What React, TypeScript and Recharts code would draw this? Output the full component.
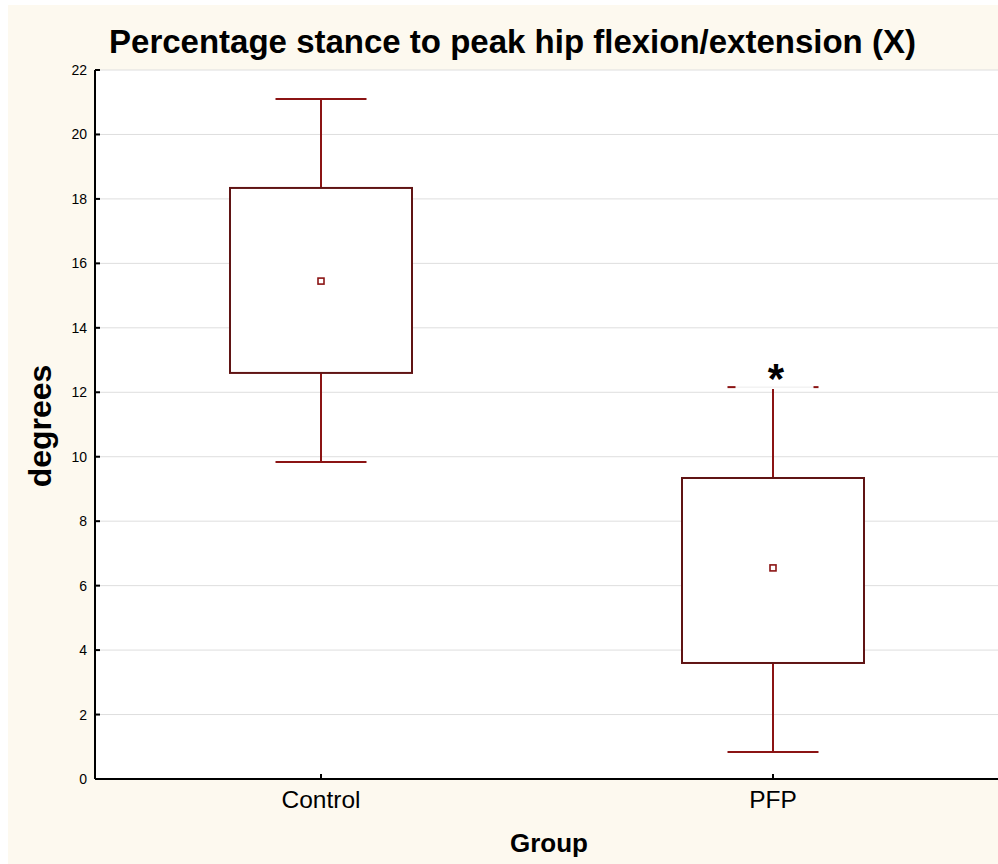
import React from "react";
import { ComposedChart, Bar, XAxis, YAxis, CartesianGrid } from "recharts";

const categories = ["Control", "PFP"];
const whiskerLow = [9.84, 0.84];
const boxLow = [12.6, 3.6];
const means = [15.45, 6.55];
const boxHigh = [18.34, 9.34];
const whiskerHigh = [21.1, 12.16];
const significant = [false, true];
const yTicks = [0, 2, 4, 6, 8, 10, 12, 14, 16, 18, 20, 22];

const data = categories.map((c, i) => ({
  cat: c,
  range: [whiskerLow[i], whiskerHigh[i]],
  q1: boxLow[i],
  q3: boxHigh[i],
  mean: means[i],
  sig: significant[i],
}));

const FONT = "'Liberation Sans', Arial, sans-serif";
const CREAM = "#fdf9ef";
const WHISK = "#8b1414";
const BOXC = "#601414";

const BoxShape = (props: any) => {
  const { x, y, width, height, payload } = props;
  if (x == null || y == null) return null;
  const [lo, hi] = payload.range;
  const pix = (v: number) => y + ((hi - v) / (hi - lo)) * height;
  const cx = x + width / 2;
  const capHalf = width / 4;
  const yHi = pix(hi);
  const yLo = pix(lo);
  const yQ3 = pix(payload.q3);
  const yQ1 = pix(payload.q1);
  const yM = pix(payload.mean);
  return (
    <g>
      <line x1={cx} x2={cx} y1={yHi + (payload.sig ? 2 : 0)} y2={yQ3} stroke={WHISK} strokeWidth={2} />
      <line x1={cx} x2={cx} y1={yQ1} y2={yLo} stroke={WHISK} strokeWidth={2} />
      {payload.sig ? (
        <g>
          <line x1={cx - capHalf} x2={cx + capHalf} y1={yHi} y2={yHi} stroke="#ececec" strokeWidth={1} />
          <line x1={cx - capHalf} x2={cx - capHalf + 8} y1={yHi} y2={yHi} stroke={WHISK} strokeWidth={2} />
          <line x1={cx + capHalf - 5} x2={cx + capHalf} y1={yHi} y2={yHi} stroke={WHISK} strokeWidth={2} />
          <text x={cx + 3} y={yHi + 6} textAnchor="middle" fontFamily={FONT} fontWeight="bold" fontSize={42} fill="#000">*</text>
        </g>
      ) : (
        <line x1={cx - capHalf} x2={cx + capHalf} y1={yHi} y2={yHi} stroke={WHISK} strokeWidth={2} />
      )}
      <line x1={cx - capHalf} x2={cx + capHalf} y1={yLo} y2={yLo} stroke={WHISK} strokeWidth={2} />
      <rect x={x} y={yQ3} width={width} height={yQ1 - yQ3} fill="#fff" stroke={BOXC} strokeWidth={2} />
      <rect x={cx - 3} y={yM - 3} width={6} height={6} fill="#fff" stroke={WHISK} strokeWidth={1.6} />
    </g>
  );
};

const YTick = (p: any) => (
  <g>
    <line x1={p.x + 8} x2={p.x + 13} y1={p.y} y2={p.y} stroke="#000" strokeWidth={2} />
    <text x={p.x} y={p.y} textAnchor="end" dominantBaseline="central" fontFamily={FONT} fontSize={14} fill="#000">
      {p.payload.value}
    </text>
  </g>
);

const RightTick = (p: any) => (
  <line x1={p.x - 5} x2={p.x} y1={p.y} y2={p.y} stroke="#000" strokeWidth={2} />
);

const XTick = (p: any) => (
  <g>
    <line x1={p.x} x2={p.x} y1={p.y} y2={p.y - 5} stroke="#000" strokeWidth={2} />
    <text x={p.x} y={p.y + 29} textAnchor="middle" fontFamily={FONT} fontSize={24.5} fill="#000">
      {p.payload.value}
    </text>
  </g>
);

const TopTick = (p: any) => (
  <line x1={p.x} x2={p.x} y1={p.y} y2={p.y + 5} stroke="#000" strokeWidth={2} />
);

export default function App() {
  return (
    <div
      style={{
        position: "fixed",
        left: 8,
        top: 5,
        width: 990,
        height: 859,
        overflow: "hidden",
        background: CREAM,
      }}
    >
      <ComposedChart
        width={1000}
        height={859}
        data={data}
        margin={{ top: 65, right: 9, bottom: 0, left: 0 }}
      >
        <CartesianGrid horizontal vertical={false} stroke="#dedede" fill="#fff" />
        <XAxis
          dataKey="cat"
          xAxisId="top"
          orientation="top"
          height={0}
          axisLine={{ stroke: "#000", strokeWidth: 2 }}
          tickLine={false}
          tickSize={0}
          tick={<TopTick />}
        />
        <XAxis
          dataKey="cat"
          height={85}
          axisLine={{ stroke: "#000", strokeWidth: 2 }}
          tickLine={false}
          tickSize={0}
          tickMargin={0}
          tick={<XTick />}
        />
        <YAxis
          domain={[0, 22]}
          ticks={yTicks}
          width={87}
          axisLine={{ stroke: "#000", strokeWidth: 2 }}
          tickLine={false}
          tickSize={0}
          tickMargin={8}
          tick={<YTick />}
          interval={0}
        />
        <YAxis
          yAxisId="right"
          orientation="right"
          domain={[0, 22]}
          ticks={yTicks}
          width={0}
          axisLine={false}
          tickLine={false}
          tickSize={0}
          tickMargin={0}
          tick={<RightTick />}
          interval={0}
        />
        <Bar dataKey="range" barSize={182} isAnimationActive={false} shape={<BoxShape />} />
      </ComposedChart>
      <svg
        width={990}
        height={859}
        style={{ position: "absolute", left: 0, top: 0, pointerEvents: "none" }}
      >
        <text x={504.5} y={48} textAnchor="middle" fontFamily={FONT} fontWeight="bold" fontSize={33} fill="#000">
          Percentage stance to peak hip flexion/extension (X)
        </text>
        <text
          x={0}
          y={0}
          transform="translate(43 421) rotate(-90)"
          textAnchor="middle"
          fontFamily={FONT}
          fontWeight="bold"
          fontSize={32}
          fill="#000"
        >
          degrees
        </text>
        <text x={541} y={847} textAnchor="middle" fontFamily={FONT} fontWeight="bold" fontSize={26} fill="#000">
          Group
        </text>
      </svg>
    </div>
  );
}
